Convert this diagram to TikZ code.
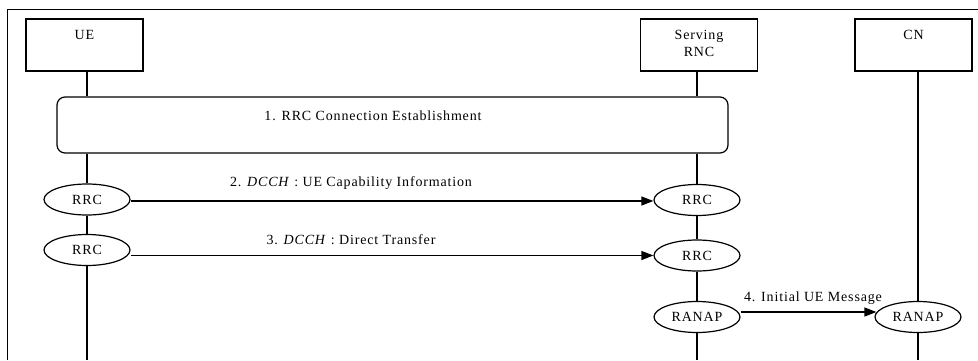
\documentclass[tikz,border=0pt]{standalone}
\usepackage{fontspec}
\setmainfont{Liberation Serif}[LetterSpace=6]
\usetikzlibrary{arrows.meta,shapes.geometric,calc}
\begin{document}
\begin{tikzpicture}[x=1pt,y=-1pt,
  every node/.style={font=\fontsize{14}{17}\selectfont},
  entity/.style={draw,line width=1.3pt,minimum width=117pt,minimum height=52pt,inner sep=0pt},
  proc/.style={draw,line width=1.2pt,rounded corners=8pt,minimum width=671pt,minimum height=56pt,inner sep=0pt},
  peer/.style={draw,ellipse,line width=1.2pt,minimum width=86pt,minimum height=31pt,inner sep=0pt},
  life/.style={line width=1.2pt},
  msg/.style={line width=1.2pt,-{Triangle[length=12pt,width=9pt]}},
  lbl/.style={inner sep=1pt}]
\useasboundingbox (0,0) rectangle (978,360);
\draw[line width=1.3pt] (7.5,360) -- (7.5,9.5) -- (978,9.5);
% entities
\node[entity] (ue) at (84.5,45) {};
\node[entity] (rnc) at (699,45) {};
\node[entity] (cn) at (913.5,45) {};
\node (uet) at (84.5,35) {UE};
\node[align=center] (rnct) at (699,43) {Serving\\RNC};
\node (cnt) at (913.5,35) {CN};
% procedure
\node[proc] (est) at (392.5,125) {};
\node (estt) at (373,116) {1. RRC Connection Establishment};
% peers
\node[peer] (uerrc1) at (87,199.5) {RRC};
\node[peer] (rncrrc1) at (697,200) {RRC};
\node[peer] (uerrc2) at (87,250) {RRC};
\node[peer] (rncrrc2) at (697,255.5) {RRC};
\node[peer] (rncranap) at (697,317) {RANAP};
\node[peer] (cnranap) at (918,317) {RANAP};
% lifeline ends
\coordinate (ueend) at (87,360);
\coordinate (rncend) at (697,360);
\coordinate (cnend) at (918,360);
% lifelines
\draw[life] (ue.south -| uerrc1) -- (est.north -| uerrc1);
\draw[life] (est.south -| uerrc1) -- (uerrc1.north);
\draw[life] (uerrc1.south) -- (uerrc2.north);
\draw[life] (uerrc2.south) -- (ueend);
\draw[life] (rnc.south -| rncrrc1) -- (est.north -| rncrrc1);
\draw[life] (est.south -| rncrrc1) -- (rncrrc1.north);
\draw[life] (rncrrc1.south) -- (rncrrc2.north);
\draw[life] (rncrrc2.south) -- (rncranap.north);
\draw[life] (rncranap.south) -- (rncend);
\draw[life] (cn.south -| cnranap) -- (cnranap.north);
\draw[life] (cnranap.south) -- (cnend);
% messages
\draw[msg] (uerrc1.east |- 0,201) -- (rncrrc1.west |- 0,201);
\node[lbl] (m2) at (351,183) {2. \textit{DCCH} : UE Capability Information};
\draw[msg] (rncrrc2.west -| uerrc2.east) -- (rncrrc2.west);
\node[lbl] (m3) at (351,240) {3. \textit{DCCH} : Direct Transfer};
\draw[msg] ([yshift=5pt]rncranap.east) -- ([yshift=5pt,xshift=2pt]cnranap.west);
\node[lbl] (m4) at (813,298) {4. Initial UE Message};
\end{tikzpicture}
\end{document}
